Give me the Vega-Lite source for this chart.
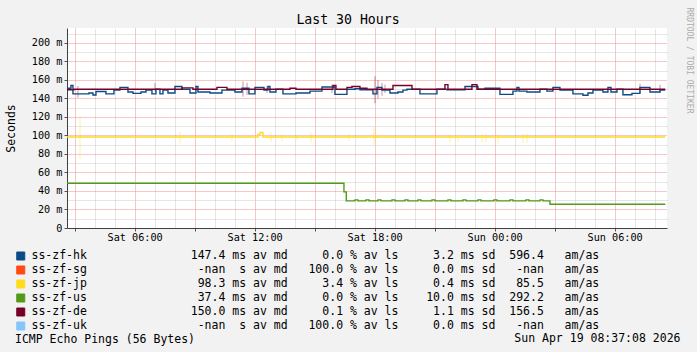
{
  "$schema": "https://vega.github.io/schema/vega-lite/v6.json",
  "width": 600,
  "height": 200,
  "autosize": {"type": "none"},
  "padding": {"left": 67, "top": 28, "right": 30, "bottom": 124},
  "background": "#f2f2f2",
  "title": {"text": "Last 30 Hours", "font": "DejaVu Sans Mono", "fontSize": 13.2, "fontWeight": "normal", "color": "#000000", "anchor": "middle", "dx": -19, "dy": 34, "offset": 4, "baseline": "alphabetic", "limit": 1000},
  "config": {"view": {"stroke": null, "fill": "#ffffff"}, "font": "DejaVu Sans Mono"},
  "datasets": {
    "lines": [
      {"s": "ss-zf-hk", "t": "2026-04-18T02:37Z", "v": 151},
      {"s": "ss-zf-hk", "t": "2026-04-18T02:49Z", "v": 154},
      {"s": "ss-zf-hk", "t": "2026-04-18T02:55Z", "v": 145},
      {"s": "ss-zf-hk", "t": "2026-04-18T03:43Z", "v": 146},
      {"s": "ss-zf-hk", "t": "2026-04-18T03:55Z", "v": 143.8},
      {"s": "ss-zf-hk", "t": "2026-04-18T04:04Z", "v": 147.5},
      {"s": "ss-zf-hk", "t": "2026-04-18T04:34Z", "v": 145},
      {"s": "ss-zf-hk", "t": "2026-04-18T04:58Z", "v": 149},
      {"s": "ss-zf-hk", "t": "2026-04-18T05:16Z", "v": 152},
      {"s": "ss-zf-hk", "t": "2026-04-18T05:40Z", "v": 147},
      {"s": "ss-zf-hk", "t": "2026-04-18T05:55Z", "v": 145.5},
      {"s": "ss-zf-hk", "t": "2026-04-18T06:19Z", "v": 147},
      {"s": "ss-zf-hk", "t": "2026-04-18T06:34Z", "v": 149},
      {"s": "ss-zf-hk", "t": "2026-04-18T06:52Z", "v": 145},
      {"s": "ss-zf-hk", "t": "2026-04-18T07:04Z", "v": 150},
      {"s": "ss-zf-hk", "t": "2026-04-18T07:16Z", "v": 145},
      {"s": "ss-zf-hk", "t": "2026-04-18T07:25Z", "v": 149},
      {"s": "ss-zf-hk", "t": "2026-04-18T07:40Z", "v": 146},
      {"s": "ss-zf-hk", "t": "2026-04-18T08:01Z", "v": 153},
      {"s": "ss-zf-hk", "t": "2026-04-18T08:22Z", "v": 150},
      {"s": "ss-zf-hk", "t": "2026-04-18T08:46Z", "v": 146},
      {"s": "ss-zf-hk", "t": "2026-04-18T09:04Z", "v": 153},
      {"s": "ss-zf-hk", "t": "2026-04-18T09:10Z", "v": 147},
      {"s": "ss-zf-hk", "t": "2026-04-18T09:46Z", "v": 146},
      {"s": "ss-zf-hk", "t": "2026-04-18T10:22Z", "v": 149},
      {"s": "ss-zf-hk", "t": "2026-04-18T11:01Z", "v": 147},
      {"s": "ss-zf-hk", "t": "2026-04-18T11:22Z", "v": 151},
      {"s": "ss-zf-hk", "t": "2026-04-18T11:43Z", "v": 145},
      {"s": "ss-zf-hk", "t": "2026-04-18T12:01Z", "v": 152},
      {"s": "ss-zf-hk", "t": "2026-04-18T12:28Z", "v": 149},
      {"s": "ss-zf-hk", "t": "2026-04-18T12:40Z", "v": 153},
      {"s": "ss-zf-hk", "t": "2026-04-18T12:46Z", "v": 147},
      {"s": "ss-zf-hk", "t": "2026-04-18T13:04Z", "v": 150},
      {"s": "ss-zf-hk", "t": "2026-04-18T13:25Z", "v": 145},
      {"s": "ss-zf-hk", "t": "2026-04-18T14:04Z", "v": 146},
      {"s": "ss-zf-hk", "t": "2026-04-18T14:46Z", "v": 148},
      {"s": "ss-zf-hk", "t": "2026-04-18T15:22Z", "v": 152.5},
      {"s": "ss-zf-hk", "t": "2026-04-18T16:01Z", "v": 144.5},
      {"s": "ss-zf-hk", "t": "2026-04-18T16:37Z", "v": 150},
      {"s": "ss-zf-hk", "t": "2026-04-18T17:01Z", "v": 150.5},
      {"s": "ss-zf-hk", "t": "2026-04-18T17:16Z", "v": 149.5},
      {"s": "ss-zf-hk", "t": "2026-04-18T17:55Z", "v": 145},
      {"s": "ss-zf-hk", "t": "2026-04-18T18:07Z", "v": 152},
      {"s": "ss-zf-hk", "t": "2026-04-18T18:22Z", "v": 149},
      {"s": "ss-zf-hk", "t": "2026-04-18T18:46Z", "v": 146},
      {"s": "ss-zf-hk", "t": "2026-04-18T19:10Z", "v": 147},
      {"s": "ss-zf-hk", "t": "2026-04-18T19:25Z", "v": 149},
      {"s": "ss-zf-hk", "t": "2026-04-18T19:37Z", "v": 150},
      {"s": "ss-zf-hk", "t": "2026-04-18T20:16Z", "v": 145},
      {"s": "ss-zf-hk", "t": "2026-04-18T21:07Z", "v": 150},
      {"s": "ss-zf-hk", "t": "2026-04-18T21:37Z", "v": 149.5},
      {"s": "ss-zf-hk", "t": "2026-04-18T22:31Z", "v": 153},
      {"s": "ss-zf-hk", "t": "2026-04-18T23:10Z", "v": 150},
      {"s": "ss-zf-hk", "t": "2026-04-18T23:31Z", "v": 151},
      {"s": "ss-zf-hk", "t": "2026-04-19T00:16Z", "v": 144.5},
      {"s": "ss-zf-hk", "t": "2026-04-19T00:55Z", "v": 148},
      {"s": "ss-zf-hk", "t": "2026-04-19T01:07Z", "v": 152},
      {"s": "ss-zf-hk", "t": "2026-04-19T01:13Z", "v": 148},
      {"s": "ss-zf-hk", "t": "2026-04-19T01:37Z", "v": 147},
      {"s": "ss-zf-hk", "t": "2026-04-19T02:16Z", "v": 150},
      {"s": "ss-zf-hk", "t": "2026-04-19T02:37Z", "v": 148},
      {"s": "ss-zf-hk", "t": "2026-04-19T02:55Z", "v": 152},
      {"s": "ss-zf-hk", "t": "2026-04-19T03:16Z", "v": 149},
      {"s": "ss-zf-hk", "t": "2026-04-19T03:55Z", "v": 145},
      {"s": "ss-zf-hk", "t": "2026-04-19T04:25Z", "v": 143.5},
      {"s": "ss-zf-hk", "t": "2026-04-19T04:40Z", "v": 146},
      {"s": "ss-zf-hk", "t": "2026-04-19T04:55Z", "v": 149},
      {"s": "ss-zf-hk", "t": "2026-04-19T05:25Z", "v": 147},
      {"s": "ss-zf-hk", "t": "2026-04-19T05:40Z", "v": 152},
      {"s": "ss-zf-hk", "t": "2026-04-19T05:49Z", "v": 147},
      {"s": "ss-zf-hk", "t": "2026-04-19T06:07Z", "v": 150},
      {"s": "ss-zf-hk", "t": "2026-04-19T06:25Z", "v": 144},
      {"s": "ss-zf-hk", "t": "2026-04-19T06:52Z", "v": 145.5},
      {"s": "ss-zf-hk", "t": "2026-04-19T07:16Z", "v": 152},
      {"s": "ss-zf-hk", "t": "2026-04-19T07:46Z", "v": 147},
      {"s": "ss-zf-hk", "t": "2026-04-19T08:16Z", "v": 149},
      {"s": "ss-zf-hk", "t": "2026-04-19T08:32Z", "v": 149},
      {"s": "ss-zf-de", "t": "2026-04-18T02:37Z", "v": 149.5},
      {"s": "ss-zf-de", "t": "2026-04-18T02:58Z", "v": 150},
      {"s": "ss-zf-de", "t": "2026-04-18T08:22Z", "v": 151.5},
      {"s": "ss-zf-de", "t": "2026-04-18T08:55Z", "v": 150},
      {"s": "ss-zf-de", "t": "2026-04-18T10:07Z", "v": 152},
      {"s": "ss-zf-de", "t": "2026-04-18T10:37Z", "v": 150},
      {"s": "ss-zf-de", "t": "2026-04-18T13:46Z", "v": 151},
      {"s": "ss-zf-de", "t": "2026-04-18T14:04Z", "v": 150},
      {"s": "ss-zf-de", "t": "2026-04-18T15:55Z", "v": 154},
      {"s": "ss-zf-de", "t": "2026-04-18T16:04Z", "v": 150},
      {"s": "ss-zf-de", "t": "2026-04-18T16:37Z", "v": 152},
      {"s": "ss-zf-de", "t": "2026-04-18T16:52Z", "v": 153},
      {"s": "ss-zf-de", "t": "2026-04-18T17:16Z", "v": 151},
      {"s": "ss-zf-de", "t": "2026-04-18T17:37Z", "v": 150},
      {"s": "ss-zf-de", "t": "2026-04-18T18:55Z", "v": 154},
      {"s": "ss-zf-de", "t": "2026-04-18T19:52Z", "v": 150},
      {"s": "ss-zf-de", "t": "2026-04-18T21:31Z", "v": 155},
      {"s": "ss-zf-de", "t": "2026-04-18T21:40Z", "v": 150},
      {"s": "ss-zf-de", "t": "2026-04-18T22:52Z", "v": 155},
      {"s": "ss-zf-de", "t": "2026-04-18T23:07Z", "v": 150},
      {"s": "ss-zf-de", "t": "2026-04-19T08:32Z", "v": 150},
      {"s": "ss-zf-jp", "t": "2026-04-18T02:37Z", "v": 98.3},
      {"s": "ss-zf-jp", "t": "2026-04-18T12:10Z", "v": 101},
      {"s": "ss-zf-jp", "t": "2026-04-18T12:16Z", "v": 103.3},
      {"s": "ss-zf-jp", "t": "2026-04-18T12:25Z", "v": 98.3},
      {"s": "ss-zf-jp", "t": "2026-04-18T18:00Z", "v": 99.5},
      {"s": "ss-zf-jp", "t": "2026-04-18T18:06Z", "v": 98.3},
      {"s": "ss-zf-jp", "t": "2026-04-19T08:32Z", "v": 98.3},
      {"s": "ss-zf-us", "t": "2026-04-18T02:37Z", "v": 48.3},
      {"s": "ss-zf-us", "t": "2026-04-18T16:28Z", "v": 39},
      {"s": "ss-zf-us", "t": "2026-04-18T16:35Z", "v": 29.3},
      {"s": "ss-zf-us", "t": "2026-04-18T17:01Z", "v": 30.4},
      {"s": "ss-zf-us", "t": "2026-04-18T17:10Z", "v": 29.3},
      {"s": "ss-zf-us", "t": "2026-04-18T17:34Z", "v": 30.4},
      {"s": "ss-zf-us", "t": "2026-04-18T17:43Z", "v": 29.3},
      {"s": "ss-zf-us", "t": "2026-04-18T18:10Z", "v": 30.4},
      {"s": "ss-zf-us", "t": "2026-04-18T18:19Z", "v": 29.3},
      {"s": "ss-zf-us", "t": "2026-04-18T18:52Z", "v": 30.4},
      {"s": "ss-zf-us", "t": "2026-04-18T19:01Z", "v": 29.3},
      {"s": "ss-zf-us", "t": "2026-04-18T19:31Z", "v": 30.4},
      {"s": "ss-zf-us", "t": "2026-04-18T19:40Z", "v": 29.3},
      {"s": "ss-zf-us", "t": "2026-04-18T20:10Z", "v": 30.4},
      {"s": "ss-zf-us", "t": "2026-04-18T20:19Z", "v": 29.3},
      {"s": "ss-zf-us", "t": "2026-04-18T20:52Z", "v": 30.4},
      {"s": "ss-zf-us", "t": "2026-04-18T21:01Z", "v": 29.3},
      {"s": "ss-zf-us", "t": "2026-04-18T21:40Z", "v": 30.4},
      {"s": "ss-zf-us", "t": "2026-04-18T21:49Z", "v": 29.3},
      {"s": "ss-zf-us", "t": "2026-04-18T22:25Z", "v": 30.4},
      {"s": "ss-zf-us", "t": "2026-04-18T22:34Z", "v": 29.3},
      {"s": "ss-zf-us", "t": "2026-04-18T23:10Z", "v": 30.4},
      {"s": "ss-zf-us", "t": "2026-04-18T23:19Z", "v": 29.3},
      {"s": "ss-zf-us", "t": "2026-04-18T23:58Z", "v": 30.4},
      {"s": "ss-zf-us", "t": "2026-04-19T00:07Z", "v": 29.3},
      {"s": "ss-zf-us", "t": "2026-04-19T00:46Z", "v": 30.4},
      {"s": "ss-zf-us", "t": "2026-04-19T00:55Z", "v": 29.3},
      {"s": "ss-zf-us", "t": "2026-04-19T01:34Z", "v": 30.4},
      {"s": "ss-zf-us", "t": "2026-04-19T01:43Z", "v": 29.3},
      {"s": "ss-zf-us", "t": "2026-04-19T02:16Z", "v": 30.4},
      {"s": "ss-zf-us", "t": "2026-04-19T02:25Z", "v": 29.3},
      {"s": "ss-zf-us", "t": "2026-04-19T02:46Z", "v": 25.7},
      {"s": "ss-zf-us", "t": "2026-04-19T08:32Z", "v": 25.7}
    ],
    "smoke": [
      {"s": "ss-zf-de", "t": "2026-04-18T03:10Z", "lo": 141, "hi": 153.5},
      {"s": "ss-zf-de", "t": "2026-04-18T07:01Z", "lo": 147.4, "hi": 156.8},
      {"s": "ss-zf-de", "t": "2026-04-18T11:25Z", "lo": 142, "hi": 158.6},
      {"s": "ss-zf-de", "t": "2026-04-18T11:37Z", "lo": 144, "hi": 157},
      {"s": "ss-zf-de", "t": "2026-04-18T12:37Z", "lo": 146, "hi": 153.5},
      {"s": "ss-zf-de", "t": "2026-04-18T15:52Z", "lo": 146, "hi": 155},
      {"s": "ss-zf-de", "t": "2026-04-18T18:01Z", "lo": 135, "hi": 164},
      {"s": "ss-zf-de", "t": "2026-04-18T18:10Z", "lo": 140, "hi": 160},
      {"s": "ss-zf-de", "t": "2026-04-18T18:22Z", "lo": 143, "hi": 157},
      {"s": "ss-zf-de", "t": "2026-04-18T18:31Z", "lo": 146, "hi": 155},
      {"s": "ss-zf-de", "t": "2026-04-19T07:16Z", "lo": 146, "hi": 156},
      {"s": "ss-zf-de", "t": "2026-04-19T08:16Z", "lo": 146, "hi": 155},
      {"s": "ss-zf-jp", "t": "2026-04-18T03:16Z", "lo": 75, "hi": 121},
      {"s": "ss-zf-jp", "t": "2026-04-18T08:16Z", "lo": 91.5, "hi": 104},
      {"s": "ss-zf-jp", "t": "2026-04-18T10:52Z", "lo": 94, "hi": 102},
      {"s": "ss-zf-jp", "t": "2026-04-18T12:49Z", "lo": 93, "hi": 103},
      {"s": "ss-zf-jp", "t": "2026-04-18T13:22Z", "lo": 94, "hi": 102},
      {"s": "ss-zf-jp", "t": "2026-04-18T14:07Z", "lo": 95, "hi": 101},
      {"s": "ss-zf-jp", "t": "2026-04-18T14:49Z", "lo": 92, "hi": 103},
      {"s": "ss-zf-jp", "t": "2026-04-18T16:43Z", "lo": 94, "hi": 102},
      {"s": "ss-zf-jp", "t": "2026-04-18T17:58Z", "lo": 90, "hi": 110},
      {"s": "ss-zf-jp", "t": "2026-04-18T21:46Z", "lo": 92, "hi": 101},
      {"s": "ss-zf-jp", "t": "2026-04-18T22:10Z", "lo": 93, "hi": 101},
      {"s": "ss-zf-jp", "t": "2026-04-18T23:22Z", "lo": 92, "hi": 102},
      {"s": "ss-zf-jp", "t": "2026-04-18T23:34Z", "lo": 93, "hi": 101},
      {"s": "ss-zf-jp", "t": "2026-04-19T00:10Z", "lo": 91, "hi": 102},
      {"s": "ss-zf-jp", "t": "2026-04-19T01:25Z", "lo": 92, "hi": 102},
      {"s": "ss-zf-jp", "t": "2026-04-19T01:37Z", "lo": 92, "hi": 102}
    ]
  },
  "layer": [
    {
      "data": {"name": "smoke"},
      "mark": {"type": "rule", "strokeWidth": 2, "opacity": 0.22},
      "encoding": {
        "x": {
          "field": "t", "type": "temporal",
          "scale": {"type": "utc", "nice": false, "domain": [{"year": 2026, "month": 4, "date": 18, "hours": 2, "minutes": 37, "seconds": 8, "utc": true}, {"year": 2026, "month": 4, "date": 19, "hours": 8, "minutes": 37, "seconds": 8, "utc": true}]},
          "axis": {"orient": "top", "title": null, "labels": false, "ticks": false, "domain": false, "grid": true, "gridColor": "#cccccc", "gridDash": [1, 1], "gridWidth": 1,
            "values": [1776484800000, 1776488400000, 1776495600000, 1776499200000, 1776506400000, 1776510000000, 1776517200000, 1776520800000, 1776528000000, 1776531600000, 1776538800000, 1776542400000, 1776549600000, 1776553200000, 1776560400000, 1776564000000, 1776571200000, 1776574800000, 1776582000000, 1776585600000]}
        },
        "y": {
          "field": "lo", "type": "quantitative",
          "scale": {"domain": [0, 216.2], "nice": false, "zero": true},
          "axis": {"orient": "right", "labels": false, "ticks": false, "domain": false, "grid": true, "gridColor": "#cccccc", "gridDash": [1, 1], "gridWidth": 1,
            "values": [10, 30, 50, 70, 90, 110, 130, 150, 170, 190, 210],
            "title": "RRDTOOL / TOBI OETIKER", "titleX": 21.5, "titleY": 32, "titleAngle": 90, "titleAlign": "center", "titleBaseline": "middle", "titleFont": "DejaVu Sans Mono", "titleFontSize": 8, "titleFontWeight": "normal", "titleColor": "#ababab"}
        },
        "y2": {"field": "hi"},
        "color": {"field": "s", "type": "nominal"}
      }
    },
    {
      "data": {"name": "lines"},
      "mark": {"type": "line", "interpolate": "step-after", "strokeWidth": 1.4},
      "encoding": {
        "x": {
          "field": "t", "type": "temporal",
          "scale": {"type": "utc", "nice": false, "domain": [{"year": 2026, "month": 4, "date": 18, "hours": 2, "minutes": 37, "seconds": 8, "utc": true}, {"year": 2026, "month": 4, "date": 19, "hours": 8, "minutes": 37, "seconds": 8, "utc": true}]},
          "axis": {"orient": "bottom", "grid": true, "gridColor": "#ec9090", "gridDash": [1, 1], "gridWidth": 1,
            "values": [1776481200000, 1776492000000, 1776502800000, 1776513600000, 1776524400000, 1776535200000, 1776546000000, 1776556800000, 1776567600000, 1776578400000],
            "labelExpr": "utchours(datum.value) % 6 == 0 ? utcFormat(datum.value, '%a %H:%M') : ''",
            "labelFont": "DejaVu Sans Mono", "labelFontSize": 10.2, "labelColor": "#000000", "labelPadding": 1, "labelFlush": false, "labelOverlap": false,
            "ticks": true, "tickSize": 3, "tickColor": "#555555", "domain": true, "domainColor": "#404040", "domainWidth": 1,
            "title": "Sun Apr 19 08:37:08 2026", "titleX": 613, "titleY": 110, "titleAlign": "right", "titleBaseline": "middle", "titleAngle": 0, "titleFont": "DejaVu Sans Mono", "titleFontSize": 11.5, "titleFontWeight": "normal", "titleColor": "#000000", "titleLimit": 1000}
        },
        "y": {
          "field": "v", "type": "quantitative",
          "scale": {"domain": [0, 216.2], "nice": false, "zero": true},
          "axis": {"orient": "left", "grid": true, "gridColor": "#ec9090", "gridDash": [1, 1], "gridWidth": 1,
            "values": [0, 20, 40, 60, 80, 100, 120, 140, 160, 180, 200],
            "labelExpr": "datum.value == 0 ? '0' : datum.value + ' m'",
            "labelFont": "DejaVu Sans Mono", "labelFontSize": 10.2, "labelColor": "#000000", "labelPadding": 2,
            "ticks": true, "tickSize": 3, "tickColor": "#555555", "domain": true, "domainColor": "#404040", "domainWidth": 1,
            "title": "Seconds", "titleX": -56, "titleY": 100, "titleAngle": 270, "titleAlign": "center", "titleBaseline": "middle", "titleFont": "DejaVu Sans Mono", "titleFontSize": 11.5, "titleFontWeight": "normal", "titleColor": "#000000"}
        },
        "color": {
          "field": "s", "type": "nominal",
          "scale": {"domain": ["ss-zf-hk", "ss-zf-sg", "ss-zf-jp", "ss-zf-us", "ss-zf-de", "ss-zf-uk"], "range": ["#0b4a84", "#ff4a14", "#ffdc1e", "#529a18", "#76002a", "#84c6fc"]},
          "legend": {
            "orient": "none", "legendX": -52, "legendY": 221, "direction": "vertical", "columns": 1, "padding": 0,
            "symbolType": "square", "symbolSize": 64, "symbolStrokeWidth": 1, "symbolStrokeColor": "#000000",
            "labelFont": "DejaVu Sans Mono", "labelFontSize": 11.5, "labelColor": "#000000", "labelLimit": 1000, "labelOffset": 5, "labelBaseline": "middle",
            "rowPadding": 0, "clipHeight": 14,
            "title": "ICMP Echo Pings (56 Bytes)", "titleOrient": "bottom", "titleAnchor": "start", "titleFont": "DejaVu Sans Mono", "titleFontSize": 11.5, "titleFontWeight": "normal", "titleColor": "#000000", "titlePadding": 1, "titleLimit": 1000,
            "labelExpr": "replace(datum.label == 'ss-zf-hk' ? 'ss-zf-hk               147.4 ms av md     0.0 % av ls     3.2 ms sd  596.4   am/as' : datum.label == 'ss-zf-sg' ? 'ss-zf-sg                -nan  s av md   100.0 % av ls     0.0 ms sd   -nan   am/as' : datum.label == 'ss-zf-jp' ? 'ss-zf-jp                98.3 ms av md     3.4 % av ls     0.4 ms sd   85.5   am/as' : datum.label == 'ss-zf-us' ? 'ss-zf-us                37.4 ms av md     0.0 % av ls    10.0 ms sd  292.2   am/as' : datum.label == 'ss-zf-de' ? 'ss-zf-de               150.0 ms av md     0.1 % av ls     1.1 ms sd  156.5   am/as' : 'ss-zf-uk                -nan  s av md   100.0 % av ls     0.0 ms sd   -nan   am/as', regexp(' ', 'g'), '\u00a0')",
            "encode": {"symbols": {"update": {"fill": {"scale": "color", "field": "value"}, "stroke": {"value": "#000000"}, "strokeWidth": {"value": 1}, "opacity": {"value": 1}}}}
          }
        }
      }
    }
  ],
  "resolve": {"axis": {"x": "independent", "y": "independent"}}
}
